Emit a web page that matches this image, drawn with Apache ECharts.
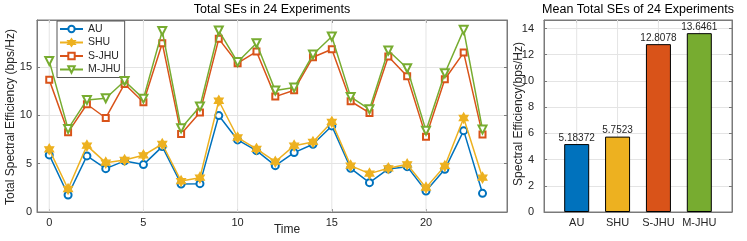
<!DOCTYPE html>
<html><head><meta charset="utf-8">
<script src="https://cdn.jsdelivr.net/npm/echarts@6/dist/echarts.min.js"></script>
<style>html,body{margin:0;padding:0;background:#fff}#c{width:747px;height:241px}</style>
</head><body><div id="c"></div>
<script>
const times = [0,1,2,3,4,5,6,7,8,9,10,11,12,13,14,15,16,17,18,19,20,21,22,23];
const timeTicks = [0,5,10,15,20];
const seriesNames = ['AU','SHU','S-JHU','M-JHU'];
const auValues   = [5.9,1.76,5.8,4.48,5.28,4.9,6.76,2.9,2.93,9.97,7.45,6.34,4.79,6.14,7.0,8.9,4.52,3.03,4.45,4.69,2.17,4.41,8.41,1.93];
const shuValues  = [6.48,2.38,6.86,5.1,5.38,5.86,7.03,3.2,3.55,11.5,7.7,6.52,5.2,6.86,7.24,9.31,4.79,3.97,4.52,4.93,2.52,4.76,9.72,3.55];
const sJhuValues = [13.66,8.24,11.14,9.72,13.24,11.34,17.45,8.07,10.28,17.9,15.38,16.59,11.93,12.59,16.0,16.83,11.45,10.24,16.07,14.03,7.79,13.72,16.48,8.0];
const mJhuValues = [15.62,8.59,11.59,11.76,13.55,11.72,18.72,8.66,10.9,18.76,15.5,17.45,12.55,12.86,16.28,18.14,11.9,10.62,16.69,14.86,8.41,14.34,18.83,8.52];
const barCategories = ['AU','SHU','S-JHU','M-JHU'];
const barPositions = [1,2,3,4];
const meanValues = [5.18372, 5.7523, 12.8078, 13.6461];
const meanLabels = ['5.18372','5.7523','12.8078','13.6461'];

const LEFT_X = [-0.65, 24.3];
const LEFT_Y = [0, 19.85];
const RIGHT_X = [0.2, 4.8];
const RIGHT_Y = [0, 14.65];

const colors = ['#0072BD','#EDB120','#D95319','#77AC30'];
const FONT = 'Liberation Sans, Arial, Helvetica, sans-serif';
const AX = '#7a7a7a';
const TXT = '#262626';
const GRIDC = '#e4e4e4';
const hexagram = 'path://M0,-1 L0.289,-0.5 L0.866,-0.5 L0.577,0 L0.866,0.5 L0.289,0.5 L0,1 L-0.289,0.5 L-0.866,0.5 L-0.577,0 L-0.866,-0.5 L-0.289,-0.5 Z';

function multOf(step){ return v => (Math.abs(v - Math.round(v/step)*step) < 1e-6 ? String(Math.round(v/step)*step) : ''); }

function mkAxis(extra){
  return Object.assign({
    axisLine:{show:true,onZero:false,lineStyle:{color:AX,width:1}},
    axisTick:{show:true,inside:true,length:3,lineStyle:{color:AX}},
    axisLabel:{fontFamily:FONT,fontSize:11,color:TXT},
    splitLine:{show:false}
  }, extra);
}

const lineSeriesData = [auValues, shuValues, sJhuValues, mJhuValues];
const symbols = ['emptyCircle', hexagram, 'emptyRect', 'emptyTriangle'];
const symbolSizes = [7, 10, 6, 8];
const rotations = [0, 0, 0, 180];

const series = [];
// vertical grid lines at the time ticks
timeTicks.forEach(t => series.push({
  type:'line', xAxisIndex:0, yAxisIndex:0, silent:true, z:1, symbol:'none',
  data:[[t, LEFT_Y[0]], [t, LEFT_Y[1]]],
  lineStyle:{color:GRIDC, width:1}, tooltip:{show:false}
}));
barPositions.forEach(p => series.push({
  type:'line', xAxisIndex:2, yAxisIndex:2, silent:true, z:1, symbol:'none',
  data:[[p, RIGHT_Y[0]], [p, RIGHT_Y[1]]],
  lineStyle:{color:GRIDC, width:1}
}));

lineSeriesData.forEach((vals, i) => series.push({
  name: seriesNames[i], type:'line', xAxisIndex:0, yAxisIndex:0,
  data: times.map((t, k) => [t, vals[k]]),
  symbol: symbols[i], symbolSize: symbolSizes[i], symbolRotate: rotations[i], symbolKeepAspect:true,
  showAllSymbol:true,
  lineStyle:{color:colors[i], width:1.5},
  itemStyle:{color:colors[i], borderColor:colors[i], borderWidth:1.3},
  z: 2 + i
}));

series.push({
  type:'bar', xAxisIndex:2, yAxisIndex:2, barWidth:25, z:3,
  data: barPositions.map((p,i)=>({value:[p, meanValues[i]], itemStyle:{color:colors[i]}})),
  itemStyle:{borderColor:'#000', borderWidth:1},
  label:{show:true, position:'top', distance:1, fontFamily:FONT, fontSize:10, color:TXT,
         formatter: p => meanLabels[p.dataIndex]}
});

const option = {
  animation:false,
  backgroundColor:'#fff',
  grid:[
    {left:37, top:20, width:470, height:192, show:true, borderColor:AX, borderWidth:1, backgroundColor:'transparent'},
    {left:544, top:20, width:188, height:192, show:true, borderColor:AX, borderWidth:1, backgroundColor:'transparent'}
  ],
  xAxis:[
    mkAxis({type:'value', gridIndex:0, min:LEFT_X[0], max:LEFT_X[1],
      axisTick:{show:true,inside:true,length:3,lineStyle:{color:AX},customValues:timeTicks},
      axisLabel:{fontFamily:FONT,fontSize:11,color:TXT,margin:5,customValues:timeTicks,formatter:v=>String(v)}}),
    mkAxis({type:'value', gridIndex:0, position:'top', min:LEFT_X[0], max:LEFT_X[1],
      axisTick:{show:true,inside:true,length:3,lineStyle:{color:AX},customValues:timeTicks},
      axisLabel:{show:false}}),
    mkAxis({type:'value', gridIndex:1, min:RIGHT_X[0], max:RIGHT_X[1],
      axisTick:{show:true,inside:true,length:3,lineStyle:{color:AX},customValues:barPositions},
      axisLabel:{fontFamily:FONT,fontSize:11,color:TXT,margin:5,customValues:barPositions,
        formatter: v => barCategories[barPositions.indexOf(Math.round(v))] || ''}}),
    mkAxis({type:'value', gridIndex:1, position:'top', min:RIGHT_X[0], max:RIGHT_X[1],
      axisTick:{show:true,inside:true,length:3,lineStyle:{color:AX},customValues:barPositions},
      axisLabel:{show:false}})
  ],
  yAxis:[
    mkAxis({type:'value', gridIndex:0, min:LEFT_Y[0], max:LEFT_Y[1], interval:5,
      axisLabel:{fontFamily:FONT,fontSize:11,color:TXT,margin:5,formatter:multOf(5)},
      splitLine:{show:true,lineStyle:{color:GRIDC,width:1}}}),
    mkAxis({type:'value', gridIndex:0, position:'right', min:LEFT_Y[0], max:LEFT_Y[1], interval:5, axisLabel:{show:false}}),
    mkAxis({type:'value', gridIndex:1, min:RIGHT_Y[0], max:RIGHT_Y[1], interval:2,
      axisLabel:{fontFamily:FONT,fontSize:11,color:TXT,margin:10,formatter:multOf(2)},
      splitLine:{show:true,lineStyle:{color:GRIDC,width:1}}}),
    mkAxis({type:'value', gridIndex:1, position:'right', min:RIGHT_Y[0], max:RIGHT_Y[1], interval:2, axisLabel:{show:false}})
  ],
  legend:{
    data: seriesNames, orient:'vertical', left:57, top:21,
    itemWidth:23, itemHeight:8, itemGap:1.5,
    padding:[2,4,2,2],
    backgroundColor:'#fff', borderColor:'#555', borderWidth:1, borderRadius:0,
    textStyle:{fontFamily:FONT, fontSize:10.5, color:TXT, lineHeight:12}
  },
  graphic:[
    {type:'text', x:272, y:10, style:{text:'Total SEs in 24 Experiments', font:'12.5px '+FONT, fill:'#000', align:'center', verticalAlign:'middle'}},
    {type:'text', x:638, y:10, style:{text:'Mean Total SEs of 24 Experiments', font:'12.5px '+FONT, fill:'#000', align:'center', verticalAlign:'middle'}},
    {type:'text', x:287, y:230, style:{text:'Time', font:'12px '+FONT, fill:TXT, align:'center', verticalAlign:'middle'}},
    {type:'text', x:11, y:117, rotation:Math.PI/2, style:{text:'Total Spectral Efficiency (bps/Hz)', font:'12px '+FONT, fill:TXT, align:'center', verticalAlign:'middle'}},
    {type:'text', x:519, y:114, rotation:Math.PI/2, style:{text:'Spectral Efficiency(bps/Hz)', font:'12px '+FONT, fill:TXT, align:'center', verticalAlign:'middle'}}
  ],
  series: series
};
const chart = echarts.init(document.getElementById('c'), null, {renderer:'canvas'});
chart.setOption(option);
</script></body></html>
